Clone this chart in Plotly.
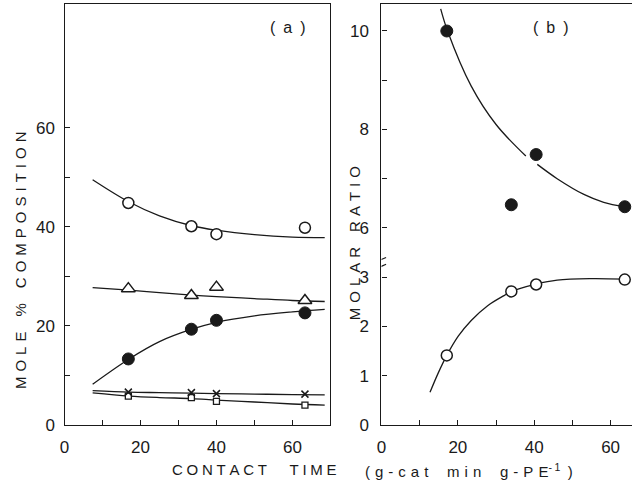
import plotly.graph_objects as go

# ---------------- Panel (a): mole % composition vs contact time ----------------
t_a = [16.8, 33.4, 40.0, 63.3]
open_circle_a = [44.8, 40.1, 38.5, 39.8]
triangle_a = [27.5, 26.1, 27.8, 25.1]
filled_circle_a = [13.3, 19.3, 21.1, 22.6]
cross_a = [6.6, 6.5, 6.3, 6.2]
square_a = [5.8, 5.5, 4.75, 3.96]

# hand-drawn fitted curves (a)
fit_t_a = [7.4, 17, 25, 33.5, 40, 50, 60, 68.5]
fit_open_a = [49.5, 45.0, 42.2, 40.2, 39.3, 38.4, 37.9, 37.8]
fit_tri_a = [27.7, 27.2, 26.7, 26.2, 25.9, 25.5, 25.1, 24.9]
fit_filled_a = [8.2, 13.3, 16.8, 19.3, 20.7, 22.0, 22.8, 23.3]
fit_cross_a = [6.9, 6.6, 6.5, 6.4, 6.3, 6.2, 6.1, 6.05]
fit_square_a = [6.45, 5.8, 5.5, 5.3, 5.0, 4.6, 4.2, 3.96]

# ---------------- Panel (b): molar ratio vs contact time ----------------
t_b = [17.1, 34.0, 40.5, 63.7]
filled_b = [10.0, 6.47, 7.49, 6.43]
open_b = [1.41, 2.71, 2.85, 2.95]

fit_t_b1 = [15.5, 17.3, 23.5, 30, 37.8]
fit_filled_b1 = [10.45, 10.0, 8.88, 8.1, 7.46]
fit_t_b2 = [40.8, 46, 53, 58.2, 63.7]
fit_filled_b2 = [7.29, 7.0, 6.68, 6.52, 6.43]
fit_t_bo = [12.7, 14.9, 17.1, 20.1, 23.5, 27.8, 32.2, 34.0, 40.5, 46, 54.7, 63.7]
fit_open_b = [0.66, 1.06, 1.41, 1.80, 2.12, 2.42, 2.63, 2.71, 2.86, 2.94, 2.97, 2.96]

tick_a = [0, 20, 40, 60]
tick_a_minor = [10, 30, 50]
ratio_ticks = [0, 1, 2, 3, 6, 8, 10]
ratio_labels = ["0", "1", "2", "3", "6", "8", "10"]
ratio_minor = [7, 9]


def brk(v):
    """Broken ratio axis: values above the break are shifted down by 2."""
    return v - 2 if v > 3.5 else v


def brk_list(vals):
    return [brk(v) for v in vals]


def spaced(text, gap, word_gap):
    """Letter-spaced caption built from real characters."""
    return word_gap.join(gap.join(w) for w in text.split(" "))


BLACK = "#1a1a1a"
fig = go.Figure()

# ---- panel (a) curves
for ys in [fit_open_a, fit_tri_a, fit_filled_a, fit_cross_a, fit_square_a]:
    fig.add_trace(go.Scatter(x=fit_t_a, y=ys, mode="lines", line=dict(color=BLACK, width=1.3, shape="spline"),
                             xaxis="x", yaxis="y", hoverinfo="skip"))

# ---- panel (a) markers
fig.add_trace(go.Scatter(x=t_a, y=open_circle_a, mode="markers", xaxis="x", yaxis="y",
                         marker=dict(symbol="circle", size=11, color="white", line=dict(color=BLACK, width=1.5))))
fig.add_trace(go.Scatter(x=t_a, y=triangle_a, mode="markers", xaxis="x", yaxis="y",
                         marker=dict(symbol="triangle-up", size=12, color="white", line=dict(color=BLACK, width=1.5))))
fig.add_trace(go.Scatter(x=t_a, y=filled_circle_a, mode="markers", xaxis="x", yaxis="y",
                         marker=dict(symbol="circle", size=12, color=BLACK, line=dict(color=BLACK, width=1))))
fig.add_trace(go.Scatter(x=t_a, y=square_a, mode="markers", xaxis="x", yaxis="y",
                         marker=dict(symbol="square", size=6, color="white", line=dict(color=BLACK, width=1.3))))
fig.add_trace(go.Scatter(x=t_a, y=cross_a, mode="markers", xaxis="x", yaxis="y",
                         marker=dict(symbol="x-thin", size=7, color=BLACK, line=dict(color=BLACK, width=1.5))))

# ---- panel (b) curves
fig.add_trace(go.Scatter(x=fit_t_b1, y=brk_list(fit_filled_b1), mode="lines", xaxis="x2", yaxis="y2",
                         line=dict(color=BLACK, width=1.3, shape="spline"), hoverinfo="skip"))
fig.add_trace(go.Scatter(x=fit_t_b2, y=brk_list(fit_filled_b2), mode="lines", xaxis="x2", yaxis="y2",
                         line=dict(color=BLACK, width=1.3, shape="spline"), hoverinfo="skip"))
fig.add_trace(go.Scatter(x=fit_t_bo, y=fit_open_b, mode="lines", xaxis="x2", yaxis="y2",
                         line=dict(color=BLACK, width=1.3, shape="spline"), hoverinfo="skip"))

# ---- panel (b) markers
fig.add_trace(go.Scatter(x=t_b, y=brk_list(filled_b), mode="markers", xaxis="x2", yaxis="y2",
                         marker=dict(symbol="circle", size=12, color=BLACK, line=dict(color=BLACK, width=1))))
fig.add_trace(go.Scatter(x=t_b, y=open_b, mode="markers", xaxis="x2", yaxis="y2",
                         marker=dict(symbol="circle", size=11, color="white", line=dict(color=BLACK, width=1.5))))

W, H = 632, 498
tickfont = dict(family="Liberation Sans Narrow, Liberation Sans, Arial", size=17, color=BLACK)
common_axis = dict(showline=True, linecolor=BLACK, linewidth=1.4, ticks="inside", ticklen=5,
                   tickcolor=BLACK, tickwidth=1.2, showgrid=False, zeroline=False, tickfont=tickfont)
minor_style = dict(ticks="inside", ticklen=5, tickcolor=BLACK, tickwidth=1.2, showgrid=False)

y_dom = [1 - 433.5 / H, 1 - 4 / H]
fig.update_layout(
    width=W, height=H, margin=dict(l=0, r=0, t=0, b=0),
    paper_bgcolor="white", plot_bgcolor="white", showlegend=False,
    xaxis=dict(domain=[60 / W, 328 / W], range=[0, 70], tickvals=tick_a, mirror=True,
               minor=dict(tickvals=tick_a_minor, **minor_style),
               anchor="y", ticklabelstandoff=7, **common_axis),
    yaxis=dict(domain=y_dom, range=[0, 85], tickvals=tick_a, mirror=True,
               minor=dict(tickvals=tick_a_minor, **minor_style),
               anchor="x", ticklabelstandoff=5, **common_axis),
    xaxis2=dict(domain=[379.5 / W, 1.0], range=[0, 65.6], tickvals=tick_a, mirror=True,
                minor=dict(tickvals=tick_a_minor, **minor_style),
                anchor="y2", ticklabelstandoff=7, **common_axis),
    yaxis2=dict(domain=y_dom, range=[0, 8.55], tickvals=brk_list(ratio_ticks), ticktext=ratio_labels,
                minor=dict(tickvals=brk_list(ratio_minor), **minor_style),
                mirror=False, anchor="x2", ticklabelstandoff=8, **common_axis),
)

titlefont = dict(family="Liberation Sans, Arial", size=15, color=BLACK)
THREE = "\u2004"   # three-per-em space
FOUR = "\u2005"    # four-per-em space
EN = "\u2002"
EM = "\u2003"


def ann(text, x, y, angle=0, size=15):
    fig.add_annotation(text=text, x=x / W, y=1 - y / H, xref="paper", yref="paper",
                       showarrow=False, textangle=angle, font=dict(titlefont, size=size),
                       xanchor="center", yanchor="middle")


ann(spaced("MOLE % COMPOSITION", THREE, EM), 15.5, 265, -90)
ann(spaced("MOLAR RATIO", THREE, EM), 352, 248, -90)
ann(spaced("CONTACT TIME", FOUR, EM + EN), 251.5, 479)
ann(THREE.join("(g-cat") + EM + FOUR + THREE.join("min") + EM + FOUR + THREE.join("g-PE")
    + "<sup>-" + FOUR + "1</sup>" + EN + ")", 467.5, 480)
ann("(" + EN + "a" + EN + ")", 285, 28, size=16)
ann("(" + EN + "b" + EN + ")", 550, 28, size=16)

# axis-break mark on the ratio axis
for y0 in [3.18, 3.32]:
    fig.add_shape(type="line", xref="x2", yref="y2", x0=-1.2, x1=1.2, y0=y0, y1=y0 + 0.08,
                  line=dict(color=BLACK, width=1.2))

# the page body has a default 8px margin; remove it so the figure fills the window
fig.write_html("out.html", config={"displayModeBar": False},
               post_script="document.body.style.margin='0';document.body.style.overflow='hidden';")
